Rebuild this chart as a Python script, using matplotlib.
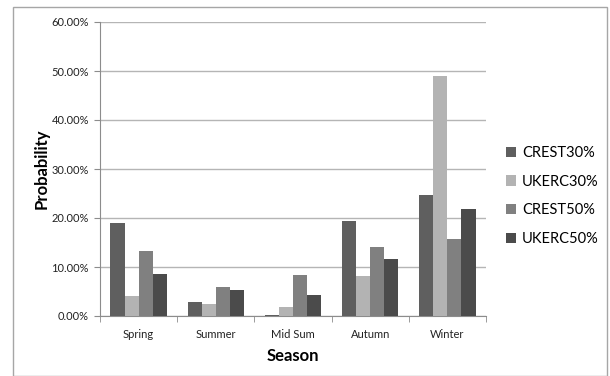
import matplotlib.pyplot as plt
import numpy as np
from matplotlib.patches import Rectangle
from matplotlib.ticker import FuncFormatter

plt.rcParams['font.family'] = ['Lato', 'DejaVu Sans']

seasons = ['Spring', 'Summer', 'Mid Sum', 'Autumn', 'Winter']
series_names = ['CREST30%', 'UKERC30%', 'CREST50%', 'UKERC50%']
crest30 = [19.0, 2.9, 0.3, 19.3, 24.7]
ukerc30 = [4.1, 2.4, 1.8, 8.2, 49.0]
crest50 = [13.3, 5.9, 8.4, 14.1, 15.7]
ukerc50 = [8.6, 5.3, 4.3, 11.7, 21.8]
colors = ['#5f5f5f', '#b3b3b3', '#808080', '#4b4b4b']

W, H = 610, 376
fig = plt.figure(figsize=(W / 100, H / 100), dpi=100)
fig.patch.set_facecolor('white')

# outer chart frame
fig.patches.append(Rectangle((13 / W, 1 - 376 / H), 594 / W, 369 / H,
                             transform=fig.transFigure, fill=False,
                             edgecolor='#a6a6a6', linewidth=1.0))

ax = fig.add_axes([100 / W, 1 - 316 / H, 386 / W, 294 / H])

x = np.arange(len(seasons))
bw = 0.182
for i, (vals, name) in enumerate(zip([crest30, ukerc30, crest50, ukerc50], series_names)):
    ax.bar(x + (i - 1.5) * bw, vals, width=bw, color=colors[i], label=name, zorder=3)

ax.set_xlim(-0.5, len(seasons) - 0.5)
ax.set_ylim(0, 60)
ax.set_yticks(np.arange(0, 61, 10))
ax.yaxis.set_major_formatter(FuncFormatter(lambda v, p: f'{v:.2f}%'))
ax.grid(axis='y', color='#b5b5b5', linewidth=1.0, zorder=0)

ax.set_xticks(x)
ax.set_xticklabels(seasons)
ax.set_xticks(np.arange(-0.5, len(seasons), 1), minor=True)
ax.tick_params(axis='x', which='major', length=0, pad=9, labelsize=8, labelcolor='#222222')
ax.tick_params(axis='x', which='minor', length=4, color='#8c8c8c')
ax.tick_params(axis='y', length=4, color='#8c8c8c', labelsize=8, labelcolor='#222222', pad=4)

for s in ['top', 'right']:
    ax.spines[s].set_visible(False)
for s in ['left', 'bottom']:
    ax.spines[s].set_color('#8c8c8c')

ax.set_xlabel('Season', fontsize=12, fontweight='bold', labelpad=6)
ax.set_ylabel('Probability', fontsize=12, fontweight='bold', labelpad=1)

ax.legend(loc='center left', bbox_to_anchor=((506 - 100) / 386, (316 - 196) / 294),
          frameon=False, borderpad=0, borderaxespad=0,
          fontsize=10.5, handlelength=0.7, handleheight=0.7,
          handletextpad=0.4, labelspacing=1.0)

fig.savefig('out.png', dpi=100, facecolor='white')
